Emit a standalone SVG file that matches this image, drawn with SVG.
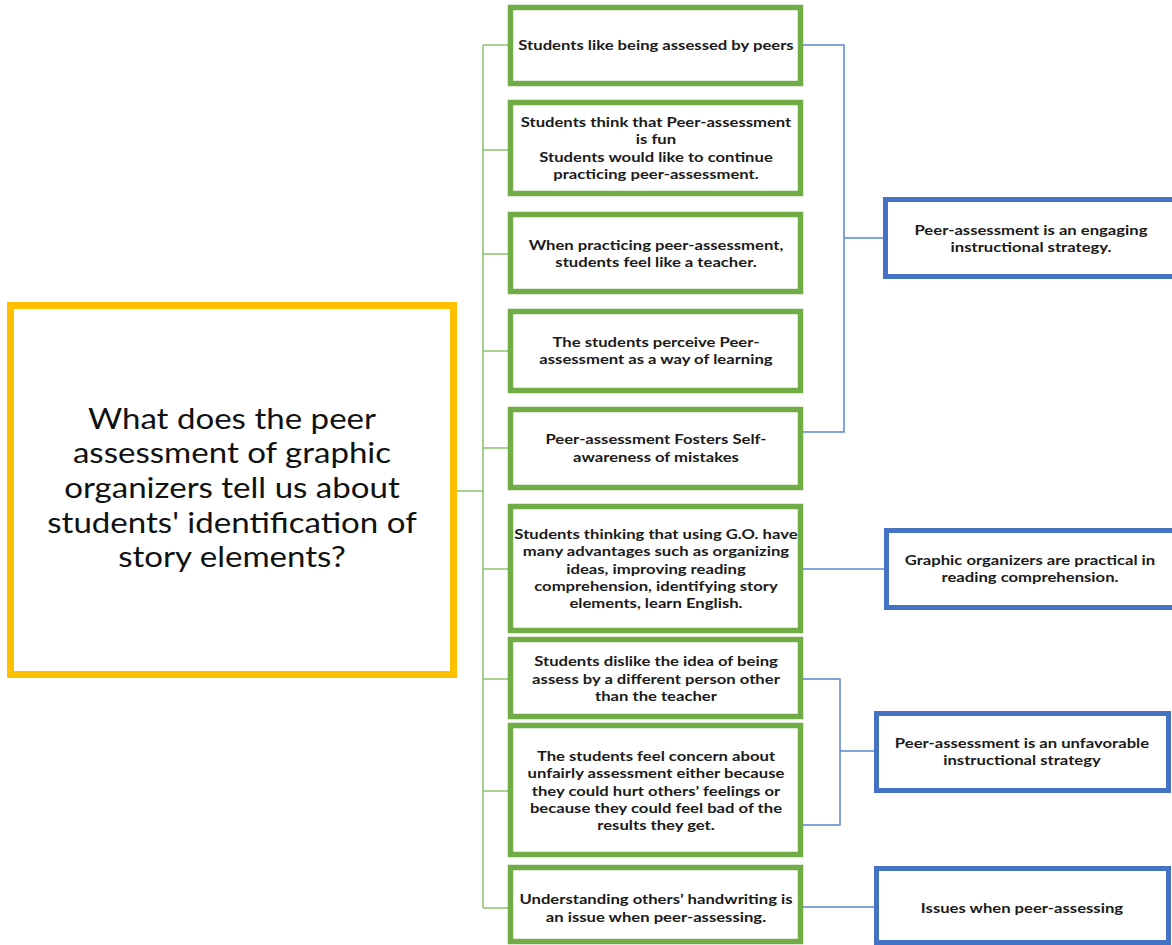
<svg xmlns="http://www.w3.org/2000/svg" width="1172" height="945" viewBox="0 0 1172 945">
<style>
.bg{fill:#ffffff}
.q{fill:#ffffff;stroke:#FFC000;stroke-width:7}
.g{fill:#ffffff;stroke:#70AD47;stroke-width:5.5}
.b{fill:#ffffff;stroke:#4472C4;stroke-width:5}
.gl{fill:none;stroke:#8CC26A;stroke-width:1.5}
.bl{fill:none;stroke:#5B87D0;stroke-width:1.5}
.t{font-family:Lato,"Liberation Sans",sans-serif;font-weight:bold;font-size:14px;fill:#1a1a1a;text-anchor:middle}
.tt{font-family:Lato,"Liberation Sans",sans-serif;font-size:28.5px;fill:#111111;text-anchor:middle}
</style>
<rect class="bg" x="0" y="0" width="1172" height="945"/>
<g id="connectors">
<path class="gl" d="M457 491 H483 M483 45 V908 M483 45 H510 M483 150 H510 M483 254 H510 M483 351 H510 M483 448 H510 M483 569 H510 M483 679 H510 M483 791 H510 M483 908 H510"/>
<path class="bl" d="M803 45 H844 V432 H803 M844 238 H884"/>
<path class="bl" d="M803 569 H884"/>
<path class="bl" d="M803 679 H840 V825 H803 M840 751 H874"/>
<path class="bl" d="M803 907 H874"/>
</g>
<g id="question">
<rect class="q" x="10.5" y="305.5" width="443" height="369"/>
<text class="tt" transform="translate(232 0) scale(1.16 1) translate(-232 0)"><tspan x="232" y="429">What does the peer</tspan><tspan x="232" y="463">assessment of graphic</tspan><tspan x="232" y="498">organizers tell us about</tspan><tspan x="232" y="533">students' identification of</tspan><tspan x="232" y="567">story elements?</tspan></text>
</g>
<g id="g1"><rect class="g" x="510.5" y="7.5" width="290" height="76"/>
<text class="t" transform="translate(656 0) scale(1.19 1) translate(-656 0)"><tspan x="656" y="50">Students like being assessed by peers</tspan></text></g>
<g id="g2"><rect class="g" x="510.5" y="102.5" width="290" height="91"/>
<text class="t" transform="translate(656 0) scale(1.19 1) translate(-656 0)"><tspan x="656" y="127">Students think that Peer-assessment</tspan><tspan x="656" y="144">is fun</tspan><tspan x="656" y="162">Students would like to continue</tspan><tspan x="656" y="179">practicing peer-assessment.</tspan></text></g>
<g id="g3"><rect class="g" x="510.5" y="214.5" width="290" height="77"/>
<text class="t" transform="translate(656 0) scale(1.19 1) translate(-656 0)"><tspan x="656" y="250">When practicing peer-assessment,</tspan><tspan x="656" y="267">students feel like a teacher.</tspan></text></g>
<g id="g4"><rect class="g" x="510.5" y="311.5" width="290" height="79"/>
<text class="t" transform="translate(656 0) scale(1.19 1) translate(-656 0)"><tspan x="656" y="347">The students perceive Peer-</tspan><tspan x="656" y="364">assessment as a way of learning</tspan></text></g>
<g id="g5"><rect class="g" x="510.5" y="409.5" width="290" height="78"/>
<text class="t" transform="translate(656 0) scale(1.19 1) translate(-656 0)"><tspan x="656" y="444">Peer-assessment Fosters Self-</tspan><tspan x="656" y="462">awareness of mistakes</tspan></text></g>
<g id="g6"><rect class="g" x="510.5" y="506.5" width="290" height="124"/>
<text class="t" transform="translate(656 0) scale(1.19 1) translate(-656 0)"><tspan x="656" y="539">Students thinking that using G.O. have</tspan><tspan x="656" y="556">many advantages such as organizing</tspan><tspan x="656" y="574">ideas, improving reading</tspan><tspan x="656" y="591">comprehension, identifying story</tspan><tspan x="656" y="608">elements, learn English.</tspan></text></g>
<g id="g7"><rect class="g" x="510.5" y="639.5" width="290" height="77"/>
<text class="t" transform="translate(656 0) scale(1.19 1) translate(-656 0)"><tspan x="656" y="666">Students dislike the idea of being</tspan><tspan x="656" y="684">assess by a different person other</tspan><tspan x="656" y="701">than the teacher</tspan></text></g>
<g id="g8"><rect class="g" x="510.5" y="725.5" width="290" height="129"/>
<text class="t" transform="translate(656 0) scale(1.19 1) translate(-656 0)"><tspan x="656" y="761">The students feel concern about</tspan><tspan x="656" y="778">unfairly assessment either because</tspan><tspan x="656" y="796">they could hurt others’ feelings or</tspan><tspan x="656" y="813">because they could feel bad of the</tspan><tspan x="656" y="830">results they get.</tspan></text></g>
<g id="g9"><rect class="g" x="510.5" y="867.5" width="290" height="74"/>
<text class="t" transform="translate(656 0) scale(1.19 1) translate(-656 0)"><tspan x="656" y="904">Understanding others’ handwriting is</tspan><tspan x="656" y="922">an issue when peer-assessing.</tspan></text></g>
<g id="b1"><rect class="b" x="885.5" y="199.5" width="295" height="77"/>
<text class="t" transform="translate(1031 0) scale(1.19 1) translate(-1031 0)"><tspan x="1031" y="235">Peer-assessment is an engaging</tspan><tspan x="1031" y="252">instructional strategy.</tspan></text></g>
<g id="b2"><rect class="b" x="886.5" y="530.5" width="295" height="77"/>
<text class="t" transform="translate(1030 0) scale(1.19 1) translate(-1030 0)"><tspan x="1030" y="565">Graphic organizers are practical in</tspan><tspan x="1030" y="582">reading comprehension.</tspan></text></g>
<g id="b3"><rect class="b" x="876.5" y="713.5" width="292" height="77"/>
<text class="t" transform="translate(1022 0) scale(1.19 1) translate(-1022 0)"><tspan x="1022" y="748">Peer-assessment is an unfavorable</tspan><tspan x="1022" y="765">instructional strategy</tspan></text></g>
<g id="b4"><rect class="b" x="876.5" y="868.5" width="292" height="74"/>
<text class="t" transform="translate(1022 0) scale(1.19 1) translate(-1022 0)"><tspan x="1022" y="913">Issues when peer-assessing</tspan></text></g>
</svg>
